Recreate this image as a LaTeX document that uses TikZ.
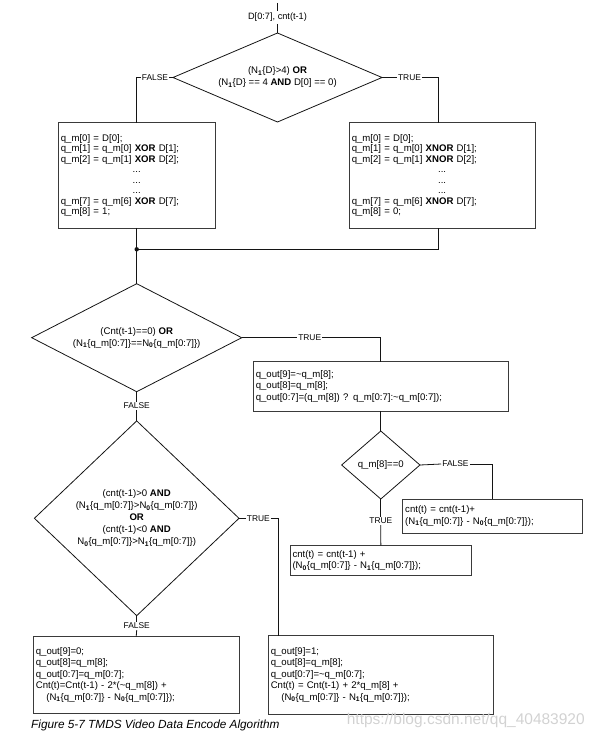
\documentclass[tikz,border=0pt]{standalone}
\usepackage{fontspec}
\setmainfont{Liberation Sans}
\usetikzlibrary{shapes.geometric,calc}
\definecolor{ink}{HTML}{141414}
\definecolor{edge}{HTML}{3A3A3A}
\definecolor{wmark}{HTML}{D2D2D2}
\newcommand{\Nb}[1]{N\textsubscript{\bfseries #1}}
\newcommand{\dotline}{\makebox[\hsize][c]{...}}
\tikzset{
  box/.style={draw=edge,line width=.8pt,inner xsep=2.5pt,inner ysep=0pt,outer sep=0pt,align=left,font=\fontsize{9.6}{11.5}\selectfont},
  boxq/.style={box,font=\fontsize{9.6}{10.5}\selectfont},
  dia/.style={diamond,draw=ink,line width=.8pt,inner sep=0pt,outer sep=0pt,align=center,font=\fontsize{9.6}{12}\selectfont},
  lab/.style={inner sep=1pt,font=\fontsize{8.4}{10}\selectfont},
  ln/.style={draw=ink,line width=.8pt},
}

\begin{document}
\begin{tikzpicture}[x=1pt,y=-1pt]
  \useasboundingbox (0,0) rectangle (596,741);
  % first test on the input byte
  \coordinate (din) at (277.5,3);
  \node[inner sep=2pt,font=\fontsize{9.2}{11}\selectfont] (dlab) at (277.5,17.5) {D[0:7], cnt(t-1)};
  \node[dia,minimum width=209,minimum height=89,shape aspect=2.35] (d1) at (277.5,77.5)
    {(\Nb{1}\{D\}>4) \textbf{OR}\\ (\Nb{1}\{D\} == 4 \textbf{AND} D[0] == 0)};
  \node[lab] (f1) at (155,77.5) {FALSE};
  \node[lab] (t1) at (409.5,77.5) {TRUE};
  \node[boxq,text width=151.7,minimum height=105.3] (qmx) at (136.7,175.3)
    {q\_m[0] = D[0];\\
     q\_m[1] = q\_m[0] \textbf{XOR} D[1];\\
     q\_m[2] = q\_m[1] \textbf{XOR} D[2];\\
     \dotline\\ \dotline\\ \dotline\\
     q\_m[7] = q\_m[6] \textbf{XOR} D[7];\\
     q\_m[8] = 1;};
  \node[boxq,text width=180.7,minimum height=105.6] (qmn) at (442.15,175.5)
    {q\_m[0] = D[0];\\
     q\_m[1] = q\_m[0] \textbf{XNOR} D[1];\\
     q\_m[2] = q\_m[1] \textbf{XNOR} D[2];\\
     \dotline\\ \dotline\\ \dotline\\
     q\_m[7] = q\_m[6] \textbf{XNOR} D[7];\\
     q\_m[8] = 0;};
  \draw[ln] (din) -- (dlab.north); \draw[ln] (dlab.south) -- (d1.north);
  \draw[ln] (d1.west) -- (f1.east); \draw[ln] (f1.west) -| (qmx.north);
  \draw[ln] (d1.east) -- (t1.west); \draw[ln] (t1.east) -| ([xshift=-3.85]qmn.north);

  % join, then the disparity tests
  \coordinate (j) at (136.7,249.3);
  \draw[ln] (qmx.south) -- (j); \draw[ln] ([xshift=-3.85]qmn.south) |- (j);
  \fill[ink] (j) circle (2.2);
  \node[dia,minimum width=210,minimum height=108,shape aspect=1.94] (d2) at (136.7,337.7)
    {(Cnt(t-1)==0) \textbf{OR}\\ (\Nb{1}\{q\_m[0:7]\}==\Nb{0}\{q\_m[0:7]\})};
  \node[lab] (t2) at (309.7,337.7) {TRUE};
  \node[lab] (f2) at (136.7,406) {FALSE};
  \node[dia,minimum width=204.6,minimum height=194.8,shape aspect=1.05] (d3) at (136.7,518.3)
    {(cnt(t-1)>0 \textbf{AND}\\ (\Nb{1}\{q\_m[0:7]\}>\Nb{0}\{q\_m[0:7]\})\\ \textbf{OR}\\
     (cnt(t-1)<0 \textbf{AND}\\ \Nb{0}\{q\_m[0:7]\}>\Nb{1}\{q\_m[0:7]\})};
  \node[lab] (t3) at (258.3,518.3) {TRUE};
  \node[lab] (f3) at (136.7,626) {FALSE};
  \draw[ln] (j) -- (d2.north);
  \draw[ln] (d2.south) -- (f2.north); \draw[ln] (f2.south) -- (d3.north);

  % right branch of the first test
  \node[box,text width=250,minimum height=49.3] (qo) at (380.8,386.3)
    {q\_out[9]=\textasciitilde q\_m[8];\\
     q\_out[8]=q\_m[8];\\
     q\_out[0:7]=(q\_m[8]) ? q\_m[0:7]:\textasciitilde q\_m[0:7]);};
  \node[dia,minimum width=78.3,minimum height=68,shape aspect=1.15] (d4) at (380.8,465) {q\_m[8]==0};
  \node[lab] (f4) at (455.5,464) {FALSE};
  \node[lab] (t4) at (380.8,521) {TRUE};
  \node[box,text width=174.6,minimum height=34.3] (cf) at (492.5,516.2)
    {cnt(t) = cnt(t-1)+\\ (\Nb{1}\{q\_m[0:7]\} - \Nb{0}\{q\_m[0:7]\});};
  \node[box,text width=176.7,minimum height=30.4] (ct) at (380.85,560.5)
    {cnt(t) = cnt(t-1) +\\ (\Nb{0}\{q\_m[0:7]\} - \Nb{1}\{q\_m[0:7]\});};
  \draw[ln] (d2.east) -- (t2.west); \draw[ln] (t2.east) -| (qo.north);
  \draw[ln] (qo.south) -- (d4.north);
  \draw[ln] (d4.east) -- (f4.west); \draw[ln] (f4.east) -| (cf.north);
  \draw[ln] (d4.south) -- (t4.north); \draw[ln] (t4.south) -- (ct.north);

  % outputs of the second test
  \node[box,text width=200.7,minimum height=76.6] (o0) at (136.2,675)
    {q\_out[9]=0;\\
     q\_out[8]=q\_m[8];\\
     q\_out[0:7]=q\_m[0:7];\\
     Cnt(t)=Cnt(t-1) - 2*(\textasciitilde q\_m[8]) +\\
     \hspace*{10.5pt}(\Nb{1}\{q\_m[0:7]\} - \Nb{0}\{q\_m[0:7]\});};
  \node[box,text width=220,minimum height=78.3] (o1) at (380.8,674.9)
    {q\_out[9]=1;\\
     q\_out[8]=q\_m[8];\\
     q\_out[0:7]=\textasciitilde q\_m[0:7];\\
     Cnt(t) = Cnt(t-1) + 2*q\_m[8] +\\
     \hspace*{10.5pt}(\Nb{0}\{q\_m[0:7]\} - \Nb{1}\{q\_m[0:7]\});};
  \draw[ln] (d3.east) -- (t3.west); \draw[ln] (t3.east) -| ([xshift=10]o1.north west);
  \draw[ln] (d3.south) -- (f3.north); \draw[ln] (f3.south) -- (o0.north);

  \node[anchor=west,inner sep=0pt,font=\fontsize{11.8}{14}\selectfont\itshape] (cap) at (31,725)
    {Figure 5-7 TMDS Video Data Encode Algorithm};
  \node[inner sep=0pt,text=wmark,font=\fontsize{15.5}{18}\selectfont] (wm) at (465.8,720.7)
    {https://blog.csdn.net/qq\_40483920};
\end{tikzpicture}
\end{document}
